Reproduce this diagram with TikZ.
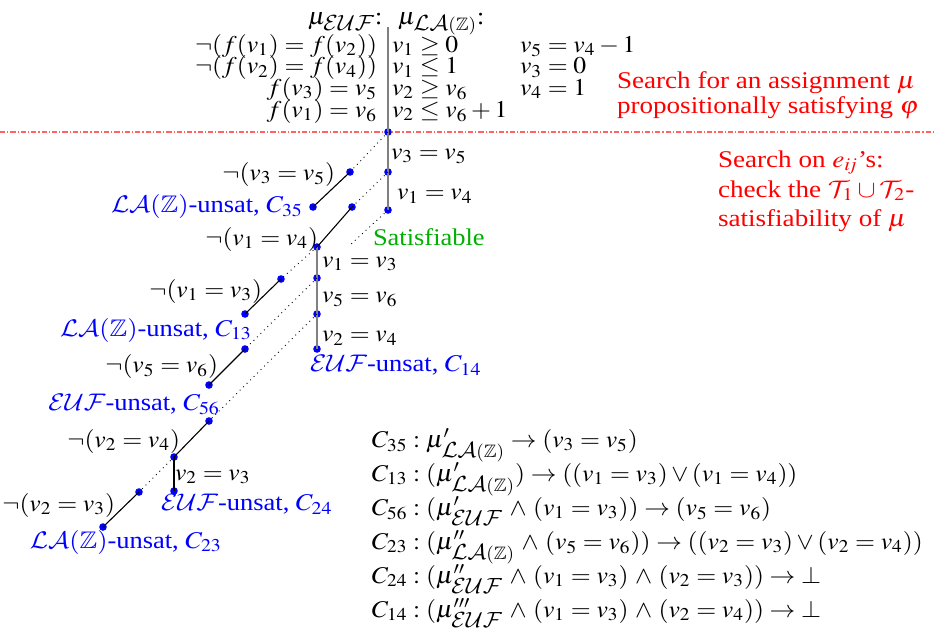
\documentclass[tikz,border=0pt]{standalone}
\usepackage{mathptmx}
\usepackage{amssymb}
\DeclareMathAlphabet{\mathcal}{OMS}{cmsy}{m}{n}
\usepackage{fontspec}
\setmainfont{Liberation Serif}
\newcommand\bigcal[1]{\mbox{\fontsize{10.5}{12}\selectfont$\mathcal{#1}$}}
\newcommand\sEUF{\bigcal{EUF}}
\newcommand\sLAZ{\bigcal{LA}(\mathbb{Z})}
\newcommand\wand{\mathbin{\,\wedge\,}}
\definecolor{grn}{RGB}{0,175,0}
\definecolor{sepred}{RGB}{255,100,100}
\definecolor{vgray}{RGB}{128,128,128}
\begin{document}
\begin{tikzpicture}[x=0.5pt,y=-0.5pt,
  tx/.style={inner sep=0pt, outer sep=0pt, font=\fontsize{12}{14}\selectfont, xscale=1.07},
  txt/.style={tx, xscale=1.055},
  bl/.style={tx, text=blue, xscale=1.03},
  rd/.style={txt, text=red},
  dotn/.style={circle, fill=blue, inner sep=0pt, minimum size=3.8pt},
  vline/.style={draw=vgray, line width=0.9pt},
  dline/.style={draw=black, dotted, line width=0.45pt},
  sline/.style={draw=black, line width=0.55pt},
  sepline/.style={draw=sepred, line width=0.6pt, dash pattern=on 2.6pt off 1pt on 0.6pt off 1pt}
]
\useasboundingbox (0,0) rectangle (935,628);

% ---- top assignment ----
\node[tx, anchor=base west] (hE) at (308,24) {$\mu_{\sEUF}$:};
\node[tx, anchor=base west] (hL) at (398,24) {$\mu_{\sLAZ}$:};

\node[tx, anchor=base east] (e1) at (377,52) {$\neg(f(v_1)=f(v_2))$};
\node[tx, anchor=base east] (e2) at (377,73.5) {$\neg(f(v_2)=f(v_4))$};
\node[tx, anchor=base east] (e3) at (377,95) {$f(v_3)=v_5$};
\node[tx, anchor=base east] (e4) at (377,117) {$f(v_1)=v_6$};

\node[tx, anchor=base west] (l1) at (392,52) {$v_1\geq 0$};
\node[tx, anchor=base west] (l2) at (392,73.5) {$v_1\leq 1$};
\node[tx, anchor=base west] (l3) at (392,95) {$v_2\geq v_6$};
\node[tx, anchor=base west] (l4) at (392,117) {$v_2\leq v_6+1$};
\node[tx, anchor=base west] (l5) at (520,52) {$v_5=v_4-1$};
\node[tx, anchor=base west] (l6) at (520,73.5) {$v_3=0$};
\node[tx, anchor=base west] (l7) at (520,95) {$v_4=1$};

% ---- red comments ----
\node[rd, anchor=base west] (r1) at (617,88) {Search for an assignment $\mu$};
\node[rd, anchor=base west] (r2) at (617,113) {propositionally satisfying $\varphi$};
\node[rd, anchor=base west] (r3) at (718,167) {Search on $e_{i\!j}$’s:};
\node[rd, anchor=base west] (r4) at (718,197) {check the $\mathcal{T}_1\cup\mathcal{T}_2$-};
\node[rd, anchor=base west] (r5) at (718,226) {satisfiability of $\mu$};

% ---- separator ----
\coordinate (sl) at (0,132);
\coordinate (sr) at (935,132);
\draw[sepline] (sl) -- (sr);

% ---- tree nodes ----
\coordinate (top) at (388,27);
\node[dotn] (R0) at (388,132) {};
\node[dotn] (A1) at (388,172) {};
\node[dotn] (A2) at (388,210) {};
\coordinate (S) at (350,245);
\node[dotn] (d1) at (350,172) {};
\node[dotn] (L1) at (313,207) {};
\node[dotn] (d2) at (352,207) {};
\node[dotn] (B0) at (317,247) {};
\node[dotn] (B1) at (317,278) {};
\node[dotn] (B2) at (317,314) {};
\node[dotn] (B3) at (317,349) {};
\node[dotn] (d3) at (281,279) {};
\node[dotn] (L2) at (245,314) {};
\node[dotn] (d4) at (245,349) {};
\node[dotn] (L3) at (209,385) {};
\node[dotn] (d5) at (209,421) {};
\node[dotn] (C0) at (174,457) {};
\node[dotn] (C1) at (174,491) {};
\node[dotn] (d6) at (139,492) {};
\node[dotn] (L4) at (103,527) {};

% ---- tree edges ----
\draw[vline] (top) -- (R0.center);
\draw[vline] (R0.center) -- (A1.center) -- (A2.center);
\draw[dline] (A2.center) -- (S);
\draw[dline] (R0.center) -- (d1.center);
\draw[sline] (d1.center) -- (L1.center);
\draw[dline] (A1.center) -- (d2.center);
\draw[sline] (d2.center) -- (B0.center);
\draw[vline] (B0.center) -- (B1.center) -- (B2.center) -- (B3.center);
\draw[dline] (B0.center) -- (d3.center);
\draw[sline] (d3.center) -- (L2.center);
\draw[dline] (B1.center) -- (d4.center);
\draw[sline] (d4.center) -- (L3.center);
\draw[dline] (B2.center) -- (d5.center);
\draw[sline] (d5.center) -- (C0.center);
\draw[sline] (C0.center) -- (C1.center);
\draw[dline] (C0.center) -- (d6.center);
\draw[sline] (d6.center) -- (L4.center);

% ---- tree labels ----
\node[tx, anchor=west] (t35) at (391,156) {$v_3=v_5$};
\node[tx, anchor=west] (t14) at (397,196) {$v_1=v_4$};
\node[bl, anchor=west, text=grn] (sat) at (373,237) {Satisfiable};
\node[tx, anchor=east] (n35) at (335,174) {$\neg(v_3=v_5)$};
\node[bl, anchor=east] (u35) at (303,206) {$\mathcal{LA}(\mathbb{Z})$-unsat, $C_{35}$};
\node[tx, anchor=east] (n14) at (318,239) {$\neg(v_1=v_4)$};
\node[tx, anchor=west] (t13) at (322,264) {$v_1=v_3$};
\node[tx, anchor=east] (n13) at (262,291) {$\neg(v_1=v_3)$};
\node[tx, anchor=west] (t56) at (322,299) {$v_5=v_6$};
\node[bl, anchor=east] (u13) at (252,330) {$\mathcal{LA}(\mathbb{Z})$-unsat, $C_{13}$};
\node[tx, anchor=west] (t24) at (322,338) {$v_2=v_4$};
\node[tx, anchor=east] (n56) at (218,366) {$\neg(v_5=v_6)$};
\node[bl, anchor=west] (u14) at (310,365) {$\mathcal{EUF}$-unsat, $C_{14}$};
\node[bl, anchor=east] (u56) at (220,404) {$\mathcal{EUF}$-unsat, $C_{56}$};
\node[tx, anchor=east] (n24) at (180,441) {$\neg(v_2=v_4)$};
\node[tx, anchor=west] (t23) at (175,477) {$v_2=v_3$};
\node[tx, anchor=east] (n23) at (115,505) {$\neg(v_2=v_3)$};
\node[bl, anchor=west] (u24) at (161,504) {$\mathcal{EUF}$-unsat, $C_{24}$};
\node[bl, anchor=west] (u23) at (30,542) {$\mathcal{LA}(\mathbb{Z})$-unsat, $C_{23}$};

% ---- clauses ----
\node[tx, anchor=base west] (c1) at (372,447) {$C_{35}:\mu'_{\sLAZ}\rightarrow(v_3=v_5)$};
\node[tx, anchor=base west] (c2) at (372,481) {$C_{13}:(\mu'_{\sLAZ})\rightarrow((v_1=v_3)\vee(v_1=v_4))$};
\node[tx, anchor=base west] (c3) at (372,515) {$C_{56}:(\mu'_{\sEUF}\wand(v_1=v_3))\rightarrow(v_5=v_6)$};
\node[tx, anchor=base west] (c4) at (372,549) {$C_{23}:(\mu''_{\sLAZ}\wand(v_5=v_6))\rightarrow((v_2=v_3)\vee(v_2=v_4))$};
\node[tx, anchor=base west] (c5) at (372,583) {$C_{24}:(\mu''_{\sEUF}\wand(v_1=v_3)\wand(v_2=v_3))\rightarrow\bot$};
\node[tx, anchor=base west] (c6) at (372,617) {$C_{14}:(\mu'''_{\sEUF}\wand(v_1=v_3)\wand(v_2=v_4))\rightarrow\bot$};
\end{tikzpicture}
\end{document}
